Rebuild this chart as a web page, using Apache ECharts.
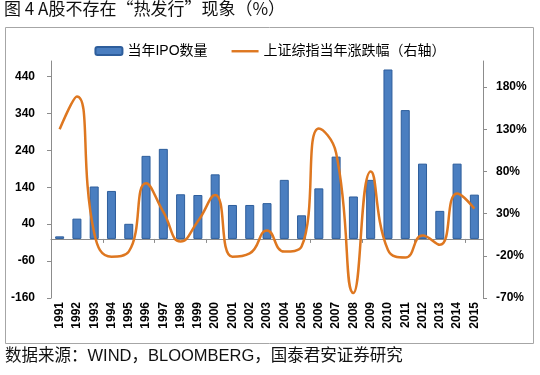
<!DOCTYPE html>
<html><head><meta charset="utf-8">
<script src="https://cdn.jsdelivr.net/npm/echarts@6/dist/echarts.min.js"></script>
<style>html,body{margin:0;padding:0;background:#fff}#c{width:540px;height:375px}</style>
</head><body><div id="c"></div>
<script>
const years = ['1991','1992','1993','1994','1995','1996','1997','1998','1999','2000','2001','2002','2003','2004','2005','2006','2007','2008','2009','2010','2011','2012','2013','2014','2015'];
const ipoCount = [7,55,142,130,41,225,244,121,119,175,92,92,97,160,64,137,223,115,160,459,349,204,76,204,120];
const indexChange = [130,169,7,-21,-15,66,32,-3,21,52,-21,-17,10,-15,-9,131,102,-64,80,-13,-22,4,-7,54,36];
const leftTicks = [-160,-60,40,140,240,340,440];
const rightTicks = [-70,-20,30,80,130,180];
const titleText = '图 4 A股不存在“热发行”现象（%）';
const sourceText = '数据来源：WIND，BLOOMBERG，国泰君安证券研究';
const barName = '当年IPO数量';
const lineName = '上证综指当年涨跌幅（右轴）';

const FONT = '"Liberation Sans","Noto Sans CJK SC",sans-serif';
const CJK = '"Noto Sans CJK SC","Liberation Sans",sans-serif';
const axisGray = '#8c8c8c';
const lineColor = '#DE7720';
const chart = echarts.init(document.getElementById('c'), null, {renderer:'canvas'});
chart.setOption({
  animation:false,
  textStyle:{fontFamily:FONT},
  graphic:[
    {type:'rect',shape:{x:5.5,y:27.5,width:528,height:316},style:{fill:'none',stroke:'#a6a6a6',lineWidth:1},z:-1},
    {type:'text',left:4,top:0,style:{text:titleText,font:'17px '+CJK,fill:'#111'}},
    {type:'text',left:5,top:348,style:{text:sourceText,font:'16.5px '+FONT,fill:'#111'}}
  ],
  legend:{
    top:39,left:'center',itemGap:24,itemWidth:27,itemHeight:8,
    textStyle:{fontSize:14,color:'#000',fontFamily:FONT},
    data:[{name:barName},
          {name:lineName,icon:'path://M0,0 M0,3 L28,3 L28,5.5 L0,5.5 Z M28,8',itemStyle:{color:lineColor}}]
  },
  grid:{left:51,right:57,top:61,bottom:77,containLabel:false},
  xAxis:[
    {type:'category',data:years,boundaryGap:true,
     axisLine:{onZero:true,lineStyle:{color:axisGray,width:1}},
     axisTick:{show:true,length:4,lineStyle:{color:axisGray}},
     axisLabel:{show:false},splitLine:{show:false}},
    {type:'category',data:years,boundaryGap:true,position:'bottom',
     axisLine:{show:false,onZero:false},axisTick:{show:false},
     axisLabel:{rotate:90,fontSize:12,fontWeight:'bold',color:'#000',margin:4,interval:0},
     splitLine:{show:false}}
  ],
  yAxis:[
    {type:'value',min:-160,max:482,position:'left',
     axisLine:{show:true,lineStyle:{color:axisGray}},
     axisTick:{show:true,length:4,lineStyle:{color:axisGray},customValues:leftTicks},
     axisLabel:{fontSize:12,fontWeight:'bold',color:'#000',margin:16,customValues:leftTicks},
     splitLine:{show:false}},
    {type:'value',min:-70,max:211,position:'right',
     axisLine:{show:true,lineStyle:{color:axisGray}},
     axisTick:{show:true,length:4,lineStyle:{color:axisGray},customValues:rightTicks},
     axisLabel:{fontSize:12,fontWeight:'bold',color:'#000',margin:13,formatter:'{value}%',customValues:rightTicks},
     splitLine:{show:false}}
  ],
  series:[
    {name:barName,type:'bar',xAxisIndex:0,yAxisIndex:0,data:ipoCount,barWidth:9,
     itemStyle:{color:'#4A7EC0',borderColor:'#2E5E9C',borderWidth:1}},
    {name:lineName,type:'line',xAxisIndex:0,yAxisIndex:1,data:indexChange,smooth:0.5,
     symbol:'none',lineStyle:{color:lineColor,width:2.5},itemStyle:{color:lineColor}}
  ]
});
</script></body></html>
